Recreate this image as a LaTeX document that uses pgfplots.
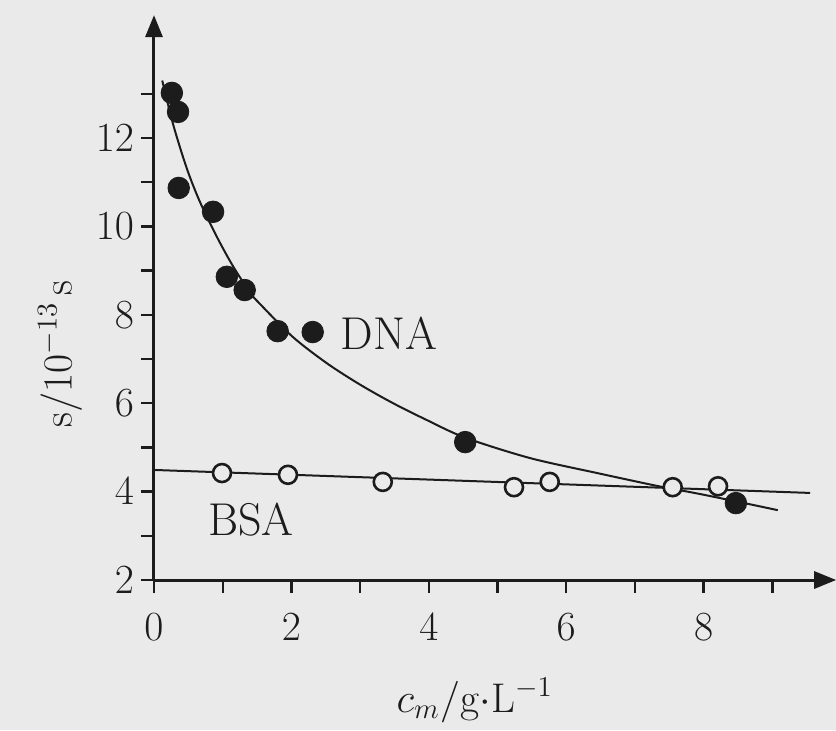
\documentclass[border=0pt]{standalone}
\usepackage{pgfplots}
\pgfplotsset{compat=1.18}
\usetikzlibrary{arrows.meta,backgrounds}
\definecolor{ink}{HTML}{1C1C1C}
\definecolor{paper}{HTML}{EAEAEA}

\begin{document}
\begin{tikzpicture}
\begin{axis}[
    x=34.35pt, y=22.1pt,
    xmin=0, xmax=9.93, ymin=2, ymax=14.78,
    axis lines=left,
    axis line style={line width=1.5pt, ink},
    every outer x axis line/.append style={-{Triangle[length=11pt,width=8.5pt]}},
    every outer y axis line/.append style={-{Triangle[length=11pt,width=8.5pt]}},
    tick align=outside,
    major tick length=6.5pt, minor tick length=6.5pt,
    every tick/.style={ink, line width=1.2pt},
    xtick={0,2,...,8}, minor xtick={1,3,...,9},
    ytick={2,4,...,12}, minor ytick={3,5,...,13},
    tick label style={font=\fontsize{22}{26}\selectfont, text=ink},
    xticklabel style={yshift=-7pt},
    xlabel={$c_m/\mathrm{g}{\cdot}\mathrm{L}^{-1}$},
    xlabel style={font=\fontsize{22}{26}\selectfont, text=ink,
        at={(axis description cs:0.47,0)}, anchor=base, yshift=-66pt},
    ylabel={$\mathrm{s}/10^{-13}\,\mathrm{s}$},
    ylabel style={font=\fontsize{22}{26}\selectfont, text=ink,
        at={(axis description cs:0,0.40)}, anchor=center, yshift=47pt},
    clip=false,
]
% DNA: fitted curve
\addplot[ink, line width=1pt, smooth, tension=0.5] coordinates {
    (0.12,13.30) (0.28,12.30) (0.48,11.30) (0.67,10.55) (0.92,9.75)
    (1.15,9.10) (1.40,8.50) (1.54,8.25) (2.02,7.50) (2.52,6.90)
    (3.00,6.42) (3.48,6.00) (3.97,5.62) (4.53,5.22) (5.47,4.76)
    (6.45,4.42) (7.32,4.13) (7.90,3.96) (8.50,3.77) (9.08,3.58)};
% BSA: straight line
\addplot[ink, line width=1pt] coordinates {(0,4.49) (9.55,3.97)};
% DNA measurements
\addplot[only marks, mark=*, mark size=5.4pt, ink] coordinates {
    (0.26,13.02) (0.35,12.59) (0.36,10.87) (0.86,10.33) (1.06,8.86)
    (1.32,8.56) (1.80,7.63) (2.31,7.61) (4.53,5.12) (8.47,3.74)};
% BSA measurements
\addplot[only marks, mark=*, mark size=4.5pt,
    mark options={fill=paper, draw=ink, line width=1.3pt}] coordinates {
    (0.99,4.42) (1.95,4.38) (3.33,4.22) (5.24,4.10) (5.76,4.22)
    (7.55,4.10) (8.21,4.12)};

\node[font=\fontsize{23}{27}\selectfont, text=ink] at (axis cs:3.42,7.59) {DNA};
\node[font=\fontsize{23}{27}\selectfont, text=ink] at (axis cs:1.41,3.36) {BSA};
\coordinate (O) at (axis cs:0,2);
\end{axis}
\pgfresetboundingbox
\path[use as bounding box] ([shift={(-77pt,-75pt)}]O) rectangle ([shift={(341pt,290pt)}]O);
\begin{scope}[on background layer]
  \fill[paper] ([shift={(-77pt,-75pt)}]O) rectangle ([shift={(341pt,290pt)}]O);
\end{scope}
\end{tikzpicture}
\end{document}
